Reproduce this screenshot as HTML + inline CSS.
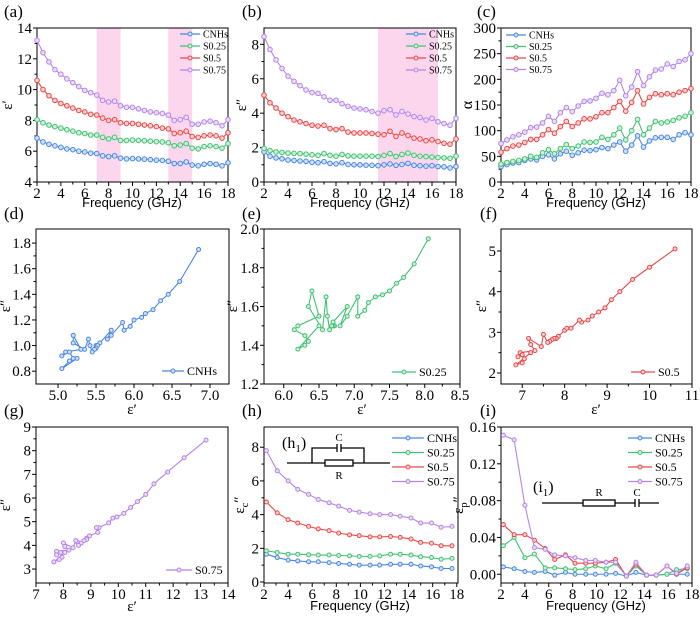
<!DOCTYPE html>
<html><head><meta charset="utf-8"><style>
body{margin:0;background:#fff;}
</style></head><body>
<svg id="fig" width="700" height="619" viewBox="0 0 700 619" xmlns="http://www.w3.org/2000/svg" style="position:absolute;left:0;top:0"></svg>
<script>
// ---- data ----
const freq = [2,2.5,3,3.5,4,4.5,5,5.5,6,6.5,7,7.5,8,8.5,9,9.5,10,10.5,11,11.5,12,12.5,13,13.5,14,14.5,15,15.5,16,16.5,17,17.5,18];
const epsR_CNHs = [6.85,6.6,6.45,6.35,6.25,6.15,6.1,6.0,5.95,5.87,5.85,5.7,5.65,5.7,5.55,5.5,5.52,5.5,5.48,5.45,5.42,5.4,5.35,5.2,5.2,5.3,5.1,5.05,5.15,5.2,5.15,5.05,5.25];
const epsR_S025 = [8.05,7.85,7.7,7.6,7.5,7.4,7.3,7.2,7.15,7.05,7.05,6.9,6.8,6.9,6.7,6.7,6.72,6.7,6.68,6.65,6.62,6.6,6.55,6.35,6.4,6.5,6.2,6.15,6.3,6.35,6.3,6.2,6.5];
const epsR_S05 = [10.6,10.0,9.6,9.3,9.1,8.95,8.8,8.65,8.55,8.4,8.35,8.15,8.0,8.05,7.85,7.8,7.8,7.75,7.7,7.65,7.6,7.5,7.45,7.15,7.2,7.3,6.95,6.9,7.0,7.05,7.0,6.85,7.2];
const epsR_S075 = [13.2,12.4,11.8,11.3,11.0,10.7,10.45,10.2,9.95,9.8,9.65,9.3,9.2,9.25,8.95,8.85,8.85,8.75,8.65,8.55,8.5,8.45,8.35,8.0,8.05,8.2,7.75,7.75,7.9,7.95,7.85,7.65,8.05];
const epsI_CNHs = [1.75,1.5,1.4,1.35,1.28,1.25,1.22,1.2,1.15,1.12,1.18,1.08,1.05,1.12,1.02,1.0,1.0,0.98,0.97,0.95,1.0,1.05,0.97,1.02,1.08,0.97,0.95,0.92,0.95,0.9,0.88,0.82,0.9];
const epsI_S025 = [1.95,1.82,1.75,1.72,1.68,1.66,1.65,1.62,1.58,1.55,1.65,1.55,1.5,1.6,1.52,1.5,1.5,1.5,1.5,1.48,1.55,1.65,1.48,1.6,1.68,1.55,1.5,1.48,1.45,1.42,1.4,1.38,1.5];
const epsI_S05 = [5.05,4.6,4.3,4.0,3.8,3.6,3.5,3.4,3.3,3.25,3.3,3.1,3.05,3.1,2.9,2.85,2.85,2.85,2.82,2.78,2.75,2.95,2.65,2.85,2.7,2.55,2.5,2.4,2.45,2.35,2.25,2.2,2.5];
const epsI_S075 = [8.45,7.7,7.1,6.6,6.15,5.85,5.6,5.35,5.2,5.15,4.95,4.75,4.75,4.55,4.4,4.3,4.25,4.2,4.1,4.0,4.15,4.2,3.9,4.1,3.95,3.8,3.75,3.6,3.7,3.5,3.4,3.3,3.7];
const alpha_CNHs = [30,34,37,38,42,45,43,50,53,45,55,60,52,57,62,61,63,67,65,72,78,60,72,90,68,80,86,87,87,83,92,96,92];
const alpha_S025 = [35,38,40,42,45,50,48,57,63,55,65,73,65,70,78,77,78,87,83,92,105,82,100,122,92,105,118,115,117,120,125,128,135];
const alpha_S05 = [58,65,70,72,77,83,83,92,102,95,108,118,108,115,123,123,127,135,135,145,157,138,155,178,152,165,172,170,172,170,175,178,182];
const alpha_S075 = [75,82,88,92,97,106,107,115,128,118,135,145,137,148,157,158,163,173,170,178,198,168,185,215,188,205,218,220,230,225,235,238,250];
const freqH = [2.2,3.1,4.0,4.8,5.7,6.5,7.4,8.2,9.1,9.9,10.8,11.6,12.5,13.3,14.2,15.0,15.9,16.7,17.6];
const epsC_CNHs = [1.65,1.45,1.3,1.25,1.2,1.2,1.15,1.1,1.05,1.0,1.0,1.0,1.05,1.05,1.05,0.95,0.9,0.8,0.8];
const epsC_S025 = [1.85,1.75,1.65,1.65,1.62,1.6,1.6,1.58,1.55,1.52,1.52,1.55,1.65,1.65,1.6,1.5,1.45,1.35,1.4];
const epsC_S05 = [4.75,4.1,3.7,3.5,3.3,3.15,3.05,2.9,2.8,2.75,2.68,2.68,2.7,2.65,2.55,2.35,2.3,2.15,2.15];
const epsC_S075 = [7.8,6.6,6.0,5.5,5.2,4.9,4.7,4.5,4.25,4.15,4.05,4.0,4.0,3.9,3.8,3.5,3.5,3.25,3.3];
const epsP_CNHs = [0.008,0.006,0.003,0.002,0.003,-0.001,0.002,0.0,0.0,0.0,0.0,0.001,-0.002,0.002,-0.001,-0.001,0.0,0.0,0.0];
const epsP_S025 = [0.031,0.040,0.018,0.022,0.007,0.007,0.006,0.005,0.006,0.009,0.006,0.012,-0.002,0.009,-0.001,-0.001,0.0,0.005,0.006];
const epsP_S05 = [0.054,0.043,0.043,0.037,0.028,0.016,0.021,0.012,0.012,0.012,0.013,0.016,-0.002,0.011,-0.001,-0.001,0.009,0.0,0.007];
const epsP_S075 = [0.151,0.146,0.075,0.029,0.027,0.021,0.020,0.018,0.015,0.015,0.013,0.013,-0.002,0.013,-0.001,-0.001,0.009,0.001,0.009];
const seriesNames = ["CNHs","S0.25","S0.5","S0.75"];
const bandsA = [[7,9],[13,15]];
const bandsB = [[11.5,16.5]];

const COL = ["#4a88e0","#45c073","#e84a4a","#b585e6"];
const FILL = ["#cfe0f8","#cdf0da","#f8d0d0","#eadcfa"];
const SERIF = "'Liberation Serif', serif";
const SANS = "'Liberation Sans', sans-serif";
const NS = "http://www.w3.org/2000/svg";
const svg = document.getElementById("fig");
function el(tag, attrs, parent, text){
  const e = document.createElementNS(NS, tag);
  if (tag === "text") e.setAttribute("font-family", SERIF);
  for (const k in attrs) e.setAttribute(k, attrs[k]);
  if (text !== undefined) e.textContent = text;
  (parent || svg).appendChild(e);
  return e;
}
function panel(o){
  const g = el("g", {});
  
  
  const sx = v => o.x0 + (v - o.xmin) / (o.xmax - o.xmin) * (o.x1 - o.x0);
  const sy = v => o.y1 - (v - o.ymin) / (o.ymax - o.ymin) * (o.y1 - o.y0);
  (o.bands || []).forEach(b => {
    const r = el("rect", {x: sx(b[0]), y: o.y0, width: sx(b[1]) - sx(b[0]), height: o.y1 - o.y0, fill: "#fcd6ec"}, g);
    
    
  });
  const fr = el("rect", {x: o.x0, y: o.y0, width: o.x1 - o.x0, height: o.y1 - o.y0, fill: "none", stroke: "#000", "stroke-width": 1}, g);
  
  
  const xa = el("g", {}, g);
  
  
  o.xt.forEach((v, i) => {
    el("line", {x1: sx(v), x2: sx(v), y1: o.y1, y2: o.y1 + 4, stroke: "#000"}, xa);
    const t = el("text", {x: sx(v), y: o.y1 + 16, "text-anchor": "middle", "font-size": 15}, xa, o.xtl[i]);
    
    
    if (i < o.xt.length - 1) { const m = (v + o.xt[i + 1]) / 2; el("line", {x1: sx(m), x2: sx(m), y1: o.y1, y2: o.y1 + 2.5, stroke: "#000"}, xa); }
  });
  const ya = el("g", {}, g);
  
  
  o.yt.forEach((v, i) => {
    el("line", {x1: o.x0 - 4, x2: o.x0, y1: sy(v), y2: sy(v), stroke: "#000"}, ya);
    const t = el("text", {x: o.x0 - 5, y: sy(v) + 5, "text-anchor": "end", "font-size": 15}, ya, o.ytl[i]);
    
    
    if (i < o.yt.length - 1) { const m = (v + o.yt[i + 1]) / 2; el("line", {x1: o.x0 - 2.5, x2: o.x0, y1: sy(m), y2: sy(m), stroke: "#000"}, ya); }
  });
  const lab = el("text", {x: o.lx, y: o.ly, "font-size": 17}, g, o.label);
  
  
  return {g, sx, sy};
}
function plotSeries(p, xs, ys, ci, r, name){
  const g = el("g", {}, p.g);
  
  
  const pts = xs.map((x, i) => [p.sx(x), p.sy(ys[i])]);
  el("polyline", {points: pts.map(q => q.join(",")).join(" "), fill: "none", stroke: COL[ci], "stroke-width": 1.1}, g);
  pts.forEach(q => {
    const c = el("circle", {cx: q[0], cy: q[1], r: r, fill: FILL[ci], stroke: COL[ci], "stroke-width": 1}, g);
    
    
  });
}
function legend(p, x, y, dy, ids, fs, len){
  const g = el("g", {}, p.g);
  
  
  ids.forEach((ci, k) => {
    const e = el("g", {}, g);
    
    
    const yy = y + k * dy;
    el("line", {x1: x, x2: x + len, y1: yy, y2: yy, stroke: COL[ci], "stroke-width": 1.2}, e);
    el("circle", {cx: x + len / 2, cy: yy, r: 2, fill: FILL[ci], stroke: COL[ci]}, e);
    el("text", {x: x + len + 3, y: yy + fs * 0.35, "font-size": fs}, e, seriesNames[ci]);
  });
}
function title(x, y, txt, rot, name, fs, sans, sub){
  const a = {x: x, y: y, "text-anchor": "middle", "font-size": fs || 13};
  if (rot) a.transform = "rotate(-90 " + x + " " + y + ")";
  if (sans) a["font-family"] = SANS;
  const t = el("text", a, svg, txt);
  if (sub) {
    el("tspan", {"font-size": fs * 0.7, dy: 4}, t, sub[0]);
    el("tspan", {dy: -4}, t, sub[1]);
  }
  
  
  return t;
}
const ev = [2,4,6,8,10,12,14,16,18], evl = ev.map(String);
const EI = [epsI_CNHs, epsI_S025, epsI_S05, epsI_S075];
const ER = [epsR_CNHs, epsR_S025, epsR_S05, epsR_S075];
const AL = [alpha_CNHs, alpha_S025, alpha_S05, alpha_S075];
const EC = [epsC_CNHs, epsC_S025, epsC_S05, epsC_S075];
const EP = [epsP_CNHs, epsP_S025, epsP_S05, epsP_S075];

// (a)
const pa = panel({name: "panel-a", x0: 37, x1: 228, y0: 28, y1: 182, xmin: 2, xmax: 18, ymin: 4, ymax: 14, xt: ev, xtl: evl, yt: [4,6,8,10,12,14], ytl: ["4","6","8","10","12","14"], bands: bandsA, label: "(a)", lx: 4, ly: 17});
ER.forEach((d, i) => plotSeries(pa, freq, d, i, 2.3, "series-" + seriesNames[i]));
legend(pa, 180, 34, 12, [0,1,2,3], 10, 20);
title(12, 105, "ε′", true, "y-axis-title-a", 15);
title(132, 207, "Frequency (GHz)", false, "x-axis-title-a", 13, true);
// (b)
const pb = panel({name: "panel-b", x0: 264, x1: 456, y0: 28, y1: 182, xmin: 2, xmax: 18, ymin: 0, ymax: 8.95, xt: ev, xtl: evl, yt: [0,2,4,6,8], ytl: ["0","2","4","6","8"], bands: bandsB, label: "(b)", lx: 242, ly: 17});
EI.forEach((d, i) => plotSeries(pb, freq, d, i, 2.3, "series-" + seriesNames[i]));
legend(pb, 406, 34, 12, [0,1,2,3], 10, 20);
title(246, 105, "ε″", true, "y-axis-title-b", 15);
title(360, 207, "Frequency (GHz)", false, "x-axis-title-b", 13, true);
// (c)
const pc = panel({name: "panel-c", x0: 501, x1: 691, y0: 28, y1: 182, xmin: 2, xmax: 18, ymin: 0, ymax: 300, xt: ev, xtl: evl, yt: [0,50,100,150,200,250,300], ytl: ["0","50","100","150","200","250","300"], label: "(c)", lx: 477, ly: 17});
AL.forEach((d, i) => plotSeries(pc, freq, d, i, 2.3, "series-" + seriesNames[i]));
legend(pc, 506, 35, 11.5, [0,1,2,3], 10, 20);
title(472, 105, "α", true, "y-axis-title-c", 16);
title(596, 207, "Frequency (GHz)", false, "x-axis-title-c", 13, true);
// (d)
const pd = panel({name: "panel-d", x0: 36, x1: 229, y0: 229, y1: 384, xmin: 4.71, xmax: 7.25, ymin: 0.7, ymax: 1.91, xt: [5,5.5,6,6.5,7], xtl: ["5.0","5.5","6.0","6.5","7.0"], yt: [0.8,1.0,1.2,1.4,1.6,1.8], ytl: ["0.8","1.0","1.2","1.4","1.6","1.8"], label: "(d)", lx: 4, ly: 219});
plotSeries(pd, epsR_CNHs, epsI_CNHs, 0, 2, "cole-cole-CNHs");
legend(pd, 162, 371, 12, [0], 12, 22);
title(10, 306, "ε″", true, "y-axis-title-d", 15);
title(132, 414, "ε′", false, "x-axis-title-d", 15);
// (e)
const pe = panel({name: "panel-e", x0: 264, x1: 460, y0: 229, y1: 384, xmin: 5.72, xmax: 8.5, ymin: 1.2, ymax: 2.0, xt: [6,6.5,7,7.5,8,8.5], xtl: ["6.0","6.5","7.0","7.5","8.0","8.5"], yt: [1.2,1.4,1.6,1.8,2.0], ytl: ["1.2","1.4","1.6","1.8","2.0"], label: "(e)", lx: 242, ly: 219});
plotSeries(pe, epsR_S025, epsI_S025, 1, 2, "cole-cole-S0.25");
legend(pe, 392, 372, 12, [1], 12, 24);
title(237, 306, "ε″", true, "y-axis-title-e", 15);
title(362, 414, "ε′", false, "x-axis-title-e", 15);
// (f)
const pf = panel({name: "panel-f", x0: 501, x1: 692, y0: 229, y1: 384, xmin: 6.5, xmax: 11, ymin: 1.73, ymax: 5.54, xt: [7,8,9,10,11], xtl: ["7","8","9","10","11"], yt: [2,3,4,5], ytl: ["2","3","4","5"], label: "(f)", lx: 480, ly: 219});
plotSeries(pf, epsR_S05, epsI_S05, 2, 2, "cole-cole-S0.5");
legend(pf, 631, 372, 12, [2], 12, 24);
title(486, 306, "ε″", true, "y-axis-title-f", 15);
title(596, 414, "ε′", false, "x-axis-title-f", 15);
// (g)
const pg = panel({name: "panel-g", x0: 36, x1: 228, y0: 427, y1: 583, xmin: 7, xmax: 14, ymin: 2.41, ymax: 9, xt: [7,8,9,10,11,12,13,14], xtl: ["7","8","9","10","11","12","13","14"], yt: [3,4,5,6,7,8,9], ytl: ["3","4","5","6","7","8","9"], label: "(g)", lx: 4, ly: 416});
plotSeries(pg, epsR_S075, epsI_S075, 3, 2, "cole-cole-S0.75");
legend(pg, 166, 570, 12, [3], 12, 26);
title(10, 505, "ε″", true, "y-axis-title-g", 15);
title(132, 611, "ε′", false, "x-axis-title-g", 15);
// (h)
const ph = panel({name: "panel-h", x0: 264, x1: 458, y0: 427, y1: 583, xmin: 2, xmax: 18.1, ymin: -0.06, ymax: 9.2, xt: ev, xtl: evl, yt: [0,2,4,6,8], ytl: ["0","2","4","6","8"], label: "(h)", lx: 242, ly: 416});
EC.forEach((d, i) => plotSeries(ph, freqH, d, i, 2, "series-" + seriesNames[i]));
legend(ph, 392, 438, 14.5, [0,1,2,3], 12, 32);
title(244, 505, "ε", true, "y-axis-title-h", 15, false, ["c","″"]);
title(360, 610, "Frequency (GHz)", false, "x-axis-title-h", 13, true);
// (i)
const pi = panel({name: "panel-i", x0: 501, x1: 692, y0: 427, y1: 583, xmin: 2, xmax: 18, ymin: -0.0095, ymax: 0.16, xt: ev, xtl: evl, yt: [0,0.04,0.08,0.12,0.16], ytl: ["0.00","0.04","0.08","0.12","0.16"], label: "(i)", lx: 480, ly: 416});
EP.forEach((d, i) => plotSeries(pi, freqH, d, i, 2, "series-" + seriesNames[i]));
legend(pi, 628, 438, 14.5, [0,1,2,3], 12, 24);
title(463, 505, "ε", true, "y-axis-title-i", 15, false, ["p","″"]);
title(596, 610, "Frequency (GHz)", false, "x-axis-title-i", 13, true);
</script>
<svg style="position:absolute;left:0;top:0" width="700" height="619">
 <g stroke="#000" stroke-width="1.3" fill="none">
  <line x1="287" y1="463" x2="390" y2="463"/>
  <polyline points="312,463 312,448 337,448"/><polyline points="341,448 364,448 364,463"/>
  <line x1="337" y1="444" x2="337" y2="452"/><line x1="341" y1="444" x2="341" y2="452"/>
  <rect x="325" y="460" width="28" height="6" fill="#fff"/>
 </g>
 <text x="282" y="448" font-size="16" font-family="'Liberation Serif', serif">(h<tspan font-size="11" dy="4">1</tspan><tspan dy="-4">)</tspan></text>
 <text x="339" y="441" font-size="11" text-anchor="middle" font-family="'Liberation Serif', serif">C</text>
 <text x="339" y="479" font-size="11" text-anchor="middle" font-family="'Liberation Serif', serif">R</text>
 <g stroke="#000" stroke-width="1.3" fill="none">
  <line x1="542" y1="503" x2="635" y2="503"/><line x1="639" y1="503" x2="659" y2="503"/>
  <line x1="635" y1="499" x2="635" y2="507"/><line x1="639" y1="499" x2="639" y2="507"/>
  <rect x="583" y="500" width="32" height="6" fill="#fff"/>
 </g>
 <text x="533" y="492" font-size="16" font-family="'Liberation Serif', serif">(i<tspan font-size="11" dy="4">1</tspan><tspan dy="-4">)</tspan></text>
 <text x="599" y="496" font-size="11" text-anchor="middle" font-family="'Liberation Serif', serif">R</text>
 <text x="637" y="496" font-size="11" text-anchor="middle" font-family="'Liberation Serif', serif">C</text>
</svg>
</body></html>
